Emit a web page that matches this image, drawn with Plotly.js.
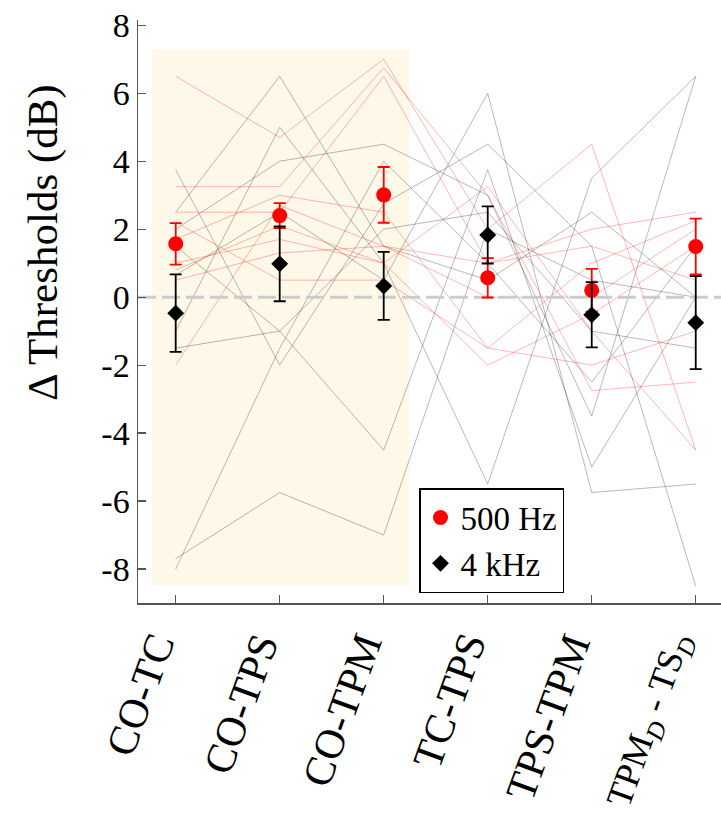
<!DOCTYPE html>
<html>
<head>
<meta charset="utf-8">
<script src="https://cdn.plot.ly/plotly-3.0.1.min.js"></script>
<style>html,body{margin:0;padding:0;background:#fff;}#chart{width:721px;height:821px;}</style>
</head>
<body>
<div id="chart"></div>
<script>
// ---- data ----
const categories = ['CO-TC', 'CO-TPS', 'CO-TPM', 'TC-TPS', 'TPS-TPM', 'TPM<sub><i>D</i></sub> - TS<sub><i>D</i></sub>'];
const yTicks = [-8, -6, -4, -2, 0, 2, 4, 6, 8];
const yTickLabels = ['-8', '-6', '-4', '-2', '0', '2', '4', '6', '8'];
const yTitle = '\u0394 Thresholds (dB)';

// group means and error (500 Hz, 4 kHz)
const mean500 = [1.57, 2.40, 3.01, 0.57, 0.20, 1.49];
const err500 = [0.61, 0.37, 0.82, 0.58, 0.63, 0.82];
const mean4k = [-0.47, 0.98, 0.33, 1.83, -0.52, -0.75];
const err4k = [1.14, 1.10, 1.00, 0.84, 0.96, 1.37];

// individual subjects, 500 Hz
const subj500_1 = [6.5, 4.7, 7.0, 2.0, 4.5, -4.5];
const subj500_2 = [3.25, 3.25, 6.75, 3.0, -2.75, -2.5];
const subj500_3 = [2.5, 2.5, 6.5, 1.0, 2.0, 2.5];
const subj500_4 = [1.7, 3.0, 2.5, -1.5, 1.0, 2.25];
const subj500_5 = [1.0, 1.7, 1.0, -2.0, -0.5, 1.5];
const subj500_6 = [0.8, 2.1, 1.0, 3.25, -1.0, -4.5];
const subj500_7 = [0.5, 1.3, 1.5, 1.0, 1.5, 0.5];
const subj500_8 = [-2.0, 2.7, 1.5, 0.0, 0.0, 2.0];
const subj500_9 = [2.2, 0.5, 0.5, -1.5, -2.0, -1.0];

// individual subjects, 4 kHz
const subj4k_1 = [3.75, -2.0, 2.75, 4.5, 1.5, -8.5];
const subj4k_2 = [2.5, 6.5, 1.5, 0.5, 2.5, 0.0];
const subj4k_3 = [2.0, 4.0, 4.5, 3.0, -3.5, 6.5];
const subj4k_4 = [1.5, -1.0, -4.5, 3.75, -5.0, 0.0];
const subj4k_5 = [0.65, 2.5, 0.5, 6.0, -5.75, -5.5];
const subj4k_6 = [-1.0, 5.0, 1.0, -5.5, 3.5, 6.5];
const subj4k_7 = [-1.5, -1.0, 2.0, 2.5, -1.0, -1.5];
const subj4k_8 = [-7.7, -5.75, -7.0, 2.0, 0.5, 0.0];
const subj4k_9 = [-8.0, -1.5, 4.0, 1.0, -2.5, 1.5];

const subjects500 = [subj500_1, subj500_2, subj500_3, subj500_4, subj500_5, subj500_6, subj500_7, subj500_8, subj500_9];
const subjects4k = [subj4k_1, subj4k_2, subj4k_3, subj4k_4, subj4k_5, subj4k_6, subj4k_7, subj4k_8, subj4k_9];

// ---- build ----
const xPos = categories.map((_, i) => i);
const xRange = [-0.3625, 5.243];
const serif = 'Liberation Serif, Times New Roman, serif';

const traces = [];
subjects4k.forEach(s => traces.push({
  x: xPos, y: s, type: 'scatter', mode: 'lines', showlegend: false, hoverinfo: 'skip',
  line: {color: 'rgba(0,0,0,0.28)', width: 1}
}));
subjects500.forEach(s => traces.push({
  x: xPos, y: s, type: 'scatter', mode: 'lines', showlegend: false, hoverinfo: 'skip',
  line: {color: 'rgba(255,0,0,0.28)', width: 1}
}));
// zero reference line
traces.push({
  x: xRange, y: [0, 0], type: 'scatter', mode: 'lines', showlegend: false, hoverinfo: 'skip',
  line: {color: '#cccccc', width: 3, dash: '18px,6px'}
});
traces.push({
  x: xPos, y: mean500, type: 'scatter', mode: 'markers', name: '500 Hz',
  marker: {symbol: 'circle', size: 15, color: '#ff0000'},
  error_y: {type: 'data', array: err500, visible: true, color: '#ff0000', thickness: 1.8, width: 6}
});
traces.push({
  x: xPos, y: mean4k, type: 'scatter', mode: 'markers', name: '4 kHz',
  marker: {symbol: 'diamond', size: 13, color: '#000000'},
  error_y: {type: 'data', array: err4k, visible: true, color: '#000000', thickness: 1.8, width: 6}
});

// category labels as rotated annotations under the ticks
const lastIdx = categories.length - 1;
const labelAnnotations = categories.map((c, i) => ({
  text: c, xref: 'x', yref: 'paper', x: xPos[i], y: -22 / 583,
  xanchor: 'right', yanchor: 'top', xshift: 10, textangle: -70, showarrow: false,
  font: {family: serif, size: i === lastIdx ? 36 : 42, color: '#000'}
}));

const layout = {
  width: 721, height: 821,
  margin: {l: 138, r: 0, t: 20, b: 218},
  paper_bgcolor: '#ffffff', plot_bgcolor: 'rgba(0,0,0,0)',
  font: {family: serif, color: '#000'},
  showlegend: true,
  legend: {
    x: 0.482, y: (603 - 488) / 583, xanchor: 'left', yanchor: 'top',
    bgcolor: '#ffffff', bordercolor: '#000000', borderwidth: 1.5,
    font: {family: serif, size: 33, color: '#000'}
  },
  xaxis: {
    range: xRange, tickmode: 'array', tickvals: xPos, showticklabels: false,
    ticks: 'inside', ticklen: 8, tickcolor: '#555', tickwidth: 1.2,
    showline: true, linecolor: '#555', linewidth: 1.5, showgrid: false, zeroline: false,
    automargin: false
  },
  yaxis: {
    range: [-9, 8.156], tickmode: 'array', tickvals: yTicks, ticktext: yTickLabels,
    tickfont: {family: serif, size: 34, color: '#000'},
    ticks: 'inside', ticklen: 8, tickcolor: '#555', tickwidth: 1.2,
    showline: true, linecolor: '#555', linewidth: 1.5, showgrid: false, zeroline: false,
    automargin: false
  },
  annotations: [{
    text: yTitle, xref: 'paper', yref: 'paper', x: (43 - 138) / 583, y: (603 - 243) / 583,
    xanchor: 'center', yanchor: 'middle', textangle: -90, showarrow: false,
    font: {family: serif, size: 43, color: '#000'}
  }].concat(labelAnnotations),
  shapes: [{
    type: 'rect', xref: 'x', yref: 'y', x0: -0.225, x1: 2.243, y0: -8.48, y1: 7.29,
    fillcolor: '#FEF8E8', line: {width: 0}, layer: 'below'
  }]
};

Plotly.newPlot('chart', traces, layout, {displayModeBar: false, staticPlot: true});
</script>
</body>
</html>
